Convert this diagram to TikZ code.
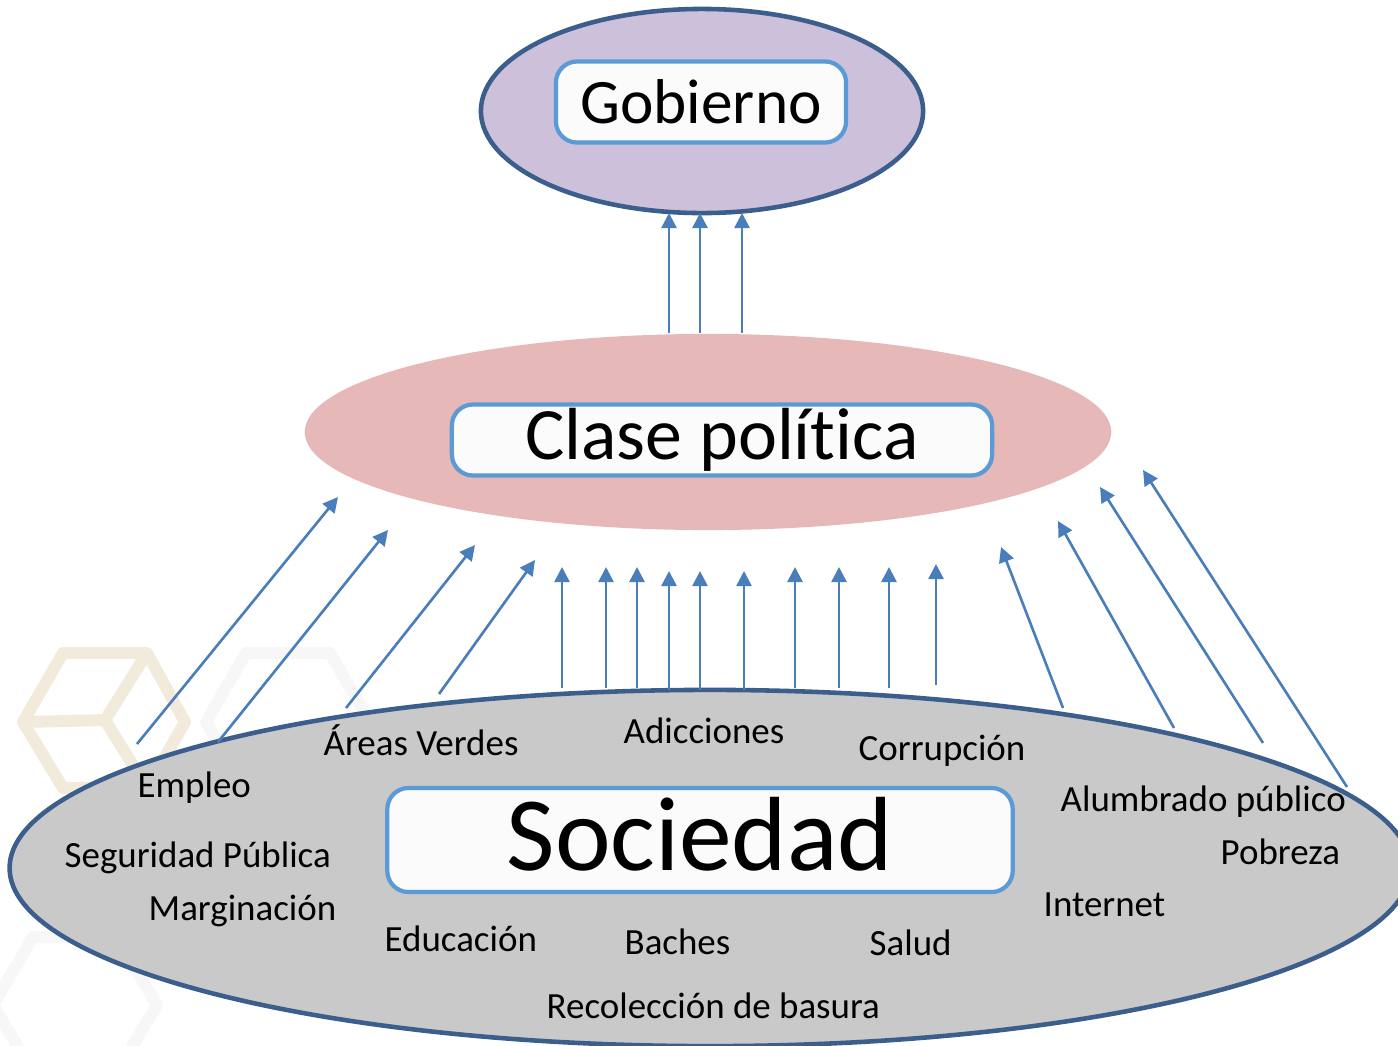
\documentclass[tikz,border=0pt]{standalone}
\usepackage{fontspec}
\setmainfont{Carlito}[Ligatures=NoCommon]
\usepackage{tikz}
\usetikzlibrary{arrows.meta, shapes.geometric}
\usepackage{xcolor}
\definecolor{borde}{HTML}{3B5E8C}
\definecolor{lila}{HTML}{CCC0DA}
\definecolor{rosa}{HTML}{E6B8B7}
\definecolor{gris}{HTML}{C9C9C9}
\definecolor{azul}{HTML}{5B9BD5}
\definecolor{flechaazul}{HTML}{4A7EBB}
\definecolor{beige}{HTML}{F2EADA}

\begin{document}
\begin{tikzpicture}[x=0.01cm, y=-0.01cm,
    caja/.style={rectangle, rounded corners=6pt, draw=azul, line width=1.2pt, fill=white!97!gray, inner sep=0pt},
    tema/.style={anchor=base west, inner sep=0pt, font=\fontsize{10.5}{12}\selectfont},
    flecha/.style={flechaazul, line width=0.75pt, -{Triangle[length=4.3pt, width=4.3pt]}},
    hexa/.style={line width=3.4pt, line join=round}]
        \useasboundingbox (0,0) rectangle (1398,1045);
        % marcas de fondo
        \draw[hexa, black!3] (246,653) -- (330,653) -- (370,722) -- (330,788) -- (246,788) -- (206,722) -- cycle;
        \draw[hexa, black!3] (33,937) -- (117,937) -- (157,1005) -- (117,1072) -- (33,1072) -- (-7,1005) -- cycle;
        \draw[hexa, beige] (63,653) -- (147,653) -- (185,722) -- (147,788) -- (63,788) -- (23,722) -- cycle;
        \draw[hexa, beige] (23,722) -- (105,720) -- (147,653); \draw[hexa, beige] (105,720) -- (147,788);

        \node[ellipse, draw=borde, line width=1.3pt, fill=lila, minimum width=4.42cm, minimum height=2.04cm] (gob) at (702,111) {};
        \node[caja, minimum width=2.9cm, minimum height=0.81cm, font=\fontsize{18}{20}\selectfont] (gobt) at (701,102) {Gobierno};

        \node[ellipse, fill=rosa, minimum width=8.06cm, minimum height=1.96cm] (clase) at (708,432) {};
        \node[caja, minimum width=5.4cm, minimum height=0.71cm, font=\fontsize{21}{24}\selectfont] (claset) at (722,440) {Clase política};

        \node[ellipse, draw=borde, line width=1.3pt, fill=gris, minimum width=14cm, minimum height=3.56cm] (soc) at (710,868) {};
        \node[caja, minimum width=6.25cm, minimum height=1.04cm, text depth=0.12cm, font=\fontsize{30}{34}\selectfont] (soct) at (700,840) {Sociedad};

        \node[tema] (empleo) at (137,797) {Empleo};
        \node[tema] (areas) at (323,755) {Áreas Verdes};
        \node[tema] (adic) at (623,743) {Adicciones};
        \node[tema] (corrup) at (858,760) {Corrupción};
        \node[tema] (alumb) at (1060,811) {Alumbrado público};
        \node[tema] (segur) at (64,867) {Seguridad Pública};
        \node[tema] (pobre) at (1220,864) {Pobreza};
        \node[tema] (margin) at (148,920) {Marginación};
        \node[tema] (inter) at (1043,916) {Internet};
        \node[tema] (educ) at (384,951) {Educación};
        \node[tema] (baches) at (624,954) {Baches};
        \node[tema] (salud) at (869,955) {Salud};
        \node[tema] (basura) at (546,1018) {Recolección de basura};

        % clase politica -> gobierno
        \coordinate (g1) at (669,333); \coordinate (h1) at (669,213);
        \coordinate (g2) at (700,333); \coordinate (h2) at (700,213);
        \coordinate (g3) at (742,333); \coordinate (h3) at (742,213);
        \draw[flecha] (g1)--(h1); \draw[flecha] (g2)--(h2); \draw[flecha] (g3)--(h3);

        % sociedad -> clase politica, izquierda
        \coordinate (a1) at (137,744); \coordinate (b1) at (338,497);
        \coordinate (a2) at (218,742); \coordinate (b2) at (388,530);
        \coordinate (a3) at (346,708); \coordinate (b3) at (475,545);
        \coordinate (a4) at (439,694); \coordinate (b4) at (535,560);
        \draw[flecha] (a1)--(b1); \draw[flecha] (a2)--(b2);
        \draw[flecha] (a3)--(b3); \draw[flecha] (a4)--(b4);

        % centro
        \coordinate (c1) at (562,688); \coordinate (d1) at (562,567);
        \coordinate (c2) at (606,688); \coordinate (d2) at (606,567);
        \coordinate (c3) at (637,688); \coordinate (d3) at (637,567);
        \coordinate (c4) at (669,690); \coordinate (d4) at (669,571);
        \coordinate (c5) at (700,690); \coordinate (d5) at (700,571);
        \coordinate (c6) at (744,690); \coordinate (d6) at (744,571);
        \coordinate (c7) at (795,688); \coordinate (d7) at (795,567);
        \coordinate (c8) at (839,688); \coordinate (d8) at (839,567);
        \coordinate (c9) at (889,688); \coordinate (d9) at (889,567);
        \coordinate (c10) at (936,685); \coordinate (d10) at (936,564);
        \draw[flecha] (c1)--(d1); \draw[flecha] (c2)--(d2); \draw[flecha] (c3)--(d3);
        \draw[flecha] (c4)--(d4); \draw[flecha] (c5)--(d5); \draw[flecha] (c6)--(d6);
        \draw[flecha] (c7)--(d7); \draw[flecha] (c8)--(d8); \draw[flecha] (c9)--(d9);
        \draw[flecha] (c10)--(d10);

        % derecha
        \coordinate (r1) at (1063,708); \coordinate (s1) at (1001,547);
        \coordinate (r2) at (1174,728); \coordinate (s2) at (1058,521);
        \coordinate (r3) at (1263,743); \coordinate (s3) at (1100,487);
        \coordinate (r4) at (1347,787); \coordinate (s4) at (1143,470);
        \draw[flecha] (r1)--(s1); \draw[flecha] (r2)--(s2);
        \draw[flecha] (r3)--(s3); \draw[flecha] (r4)--(s4);
      \end{tikzpicture}
\end{document}
